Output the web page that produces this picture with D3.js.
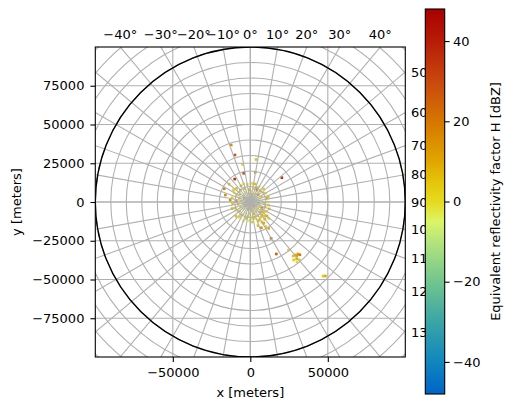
<!DOCTYPE html>
<html>
<head>
<meta charset="utf-8">
<script src="https://cdn.jsdelivr.net/npm/d3@7"></script>
<style>
  body { margin: 0; background: #fff; }
  text { font-family: "DejaVu Sans", sans-serif; }
</style>
</head>
<body>
<div id="chart"></div>
<script>

// radar gates: azimuth (deg from north), range (km), reflectivity (dBZ)
var gateAz = [
  0, 4, 10, 15, 20, 24, 29, 33, 38, 42, 47, 52, 57, 62, 66, 72, 77, 82, 88, 93,
  98, 103, 108, 113, 118, 123, 128, 132, 137, 142, 147, 152, 157, 162, 168, 173, 178, 184, 190, 196,
  202, 208, 214, 220, 224, 230, 236, 242, 248, 254, 260, 266, 272, 278, 286, 290, 296, 302, 308, 314,
  320, 326, 332, 338, 345, 350, 355,
  135, 140, 145, 150, 158, 162, 165, 130, 127, 170, 175, 185, 195, 200, 215, 225, 240, 250, 265, 275,
  283, 300, 315, 330, 340, 350, 5, 15, 30, 45, 60, 75, 90, 100, 110, 120,
  60, 120, 200, 300,
  341.5, 341.9, 7.7, 348.4, 346.9, 9.5, 325.7, 52.4, 297.1, 285.6, 305.5, 310,
  156.8, 145.2, 150.2, 141.4, 153.4, 139.2, 143.2, 134.6, 135.5, 142, 139.8, 140.8, 136.8, 141.6, 139.6, 137.5,
  168, 155, 147.9, 147.6, 138.2, 131.7
]
var gateRange = [
  3, 7, 5, 9, 4, 10, 8.8, 6, 3.5, 9.5, 7, 5, 10.5, 3, 8, 6, 11, 4, 7.5, 9,
  5.5, 3, 10, 7, 8.5, 4.5, 11, 6.5, 9, 3.5, 7, 10, 5, 8, 6, 11, 4, 7.5, 9.5, 5,
  8, 3, 10, 1.7, 6, 9, 4, 7, 10.5, 5, 8, 3.5, 9, 6, 2.2, 7.5, 10, 4.5, 8.5, 6,
  10, 3, 7, 9.5, 1.8, 5.5, 8,
  13, 14.5, 12, 15, 13.5, 16, 11, 14, 9, 9, 13, 12, 11, 13, 12, 13, 11, 12.5, 11.5, 13,
  12, 12, 12.5, 12, 12.5, 11.5, 12, 12, 11.5, 12, 11.5, 12, 11.5, 12, 13, 12,
  1.5, 2, 1.5, 1.2,
  38.8, 31.9, 27.7, 24.8, 19.0, 19.5, 17.9, 25.7, 18.9, 16.7, 13.3, 17.9,
  18.1, 20.7, 27.0, 39.6, 37.5, 45.9, 46.7, 68.0, 67.0, 48.9, 44.8, 47.2, 46.7, 44.5, 48.9, 45.5,
  10.1, 12.8, 16.2, 18.8, 11.3, 15.8
]
var gateDbz = [
  5, -4, 8, 2, -6, 12, 20, 0, -8, 6, 15, -3, 4, -10, 2, -5, 10, 0, -7, 3,
  14, -4, 6, -2, 18, 1, 5, -8, 8, 12, 0, 4, -5, 9, 2, -3, 6, -9, 3, 10,
  -4, 0, 7, -25, -6, 4, 15, -2, 3, -7, 6, 1, 22, -3, 35, 5, -1, 9, 2, -8,
  14, 4, -4, 8, -25, 0, 10,
  4, 8, 2, 6, 0, 5, -2, 12, 3, -4, 2, -6, 4, -3, 1, 5, -4, 9, 6, 15,
  3, -2, 5, 10, -3, 2, -1, 6, -5, 3, -2, 5, -6, 0, 7, 4,
  -15, -12, -18, -15,
  15, 28, 5, 3, 30, 18, 35, 35, 18, 15, 2, 6,
  15, 10, 25, 2, 25, 10, 3, 10, 4, 0, 12, 8, 20, 5, 0, 14,
  4, 6, 10, 3, 8, 2
]

// axis ticks
var xTicks = [-50000, 0, 50000]
var yTicks = [-75000, -50000, -25000, 0, 25000, 50000, 75000]
var cbTicks = [-40, -20, 0, 20, 40]
var topLabelAz = [-40, -30, -20, -10, 0, 10, 20, 30, 40]
var rightLabelAz = [50, 60, 70, 80, 90, 100, 110, 120, 130]

// colormap (HomeyerRainbow-like)
var cmapStops = [-48, -40, -30, -20, -10, -5, 0, 5, 10, 20, 30, 40, 48]
var cmapColors = ["#0064c8", "#1086be", "#3aa5a6", "#72c58e", "#b4e47c", "#dcf566", "#e6da1e",
                  "#e4c40a", "#e0a600", "#d67600", "#c8480e", "#b81c06", "#a80000"]

var width = 512, height = 410

var svg = d3.select("#chart").append("svg").attr("width", width).attr("height", height)

var x = d3.scaleLinear().domain([-100000, 100000]).range([95.3, 405.3])
var y = d3.scaleLinear().domain([-100000, 100000]).range([357, 47])
var cb = d3.scaleLinear().domain([-48, 48]).range([394, 9])
var color = d3.scaleLinear().domain(cmapStops).range(cmapColors)

var fmt = d3.format("d")

svg.append("defs").append("clipPath").attr("id", "clip")
  .append("rect")
    .attr("x", x(-100000)).attr("y", y(100000))
    .attr("width", x(100000) - x(-100000))
    .attr("height", y(-100000) - y(100000))

var plot = svg.append("g").attr("clip-path", "url(#clip)")

// radar gates
var gateSize = 1700
var gates = gateAz.map(function (az, i) {
  var a = az * Math.PI / 180
  return {
    xm: gateRange[i] * 1000 * Math.sin(a),
    ym: gateRange[i] * 1000 * Math.cos(a),
    v: gateDbz[i]
  }
})

plot.append("g")
  .selectAll("rect")
  .data(gates)
  .join("rect")
    .attr("x", d => x(d.xm - gateSize / 2))
    .attr("y", d => y(d.ym + gateSize / 2))
    .attr("width", x(gateSize) - x(0))
    .attr("height", y(0) - y(gateSize))
    .attr("fill", d => color(d.v))

// cartesian grid
plot.append("g")
    .attr("stroke", "#b0b0b0")
    .attr("stroke-width", 1.1)
  .selectAll("line")
  .data(xTicks)
  .join("line")
    .attr("x1", d => x(d)).attr("x2", d => x(d))
    .attr("y1", y(-100000)).attr("y2", y(100000))

plot.append("g")
    .attr("stroke", "#b0b0b0")
    .attr("stroke-width", 1.1)
  .selectAll("line")
  .data(yTicks)
  .join("line")
    .attr("y1", d => y(d)).attr("y2", d => y(d))
    .attr("x1", x(-100000)).attr("x2", x(100000))

// polar grid: range rings and azimuth spokes
var rings = d3.range(10000, 150000, 10000)
var spokes = d3.range(0, 360, 10)

plot.append("g")
    .attr("fill", "none")
    .attr("stroke", "#b0b0b0")
    .attr("stroke-width", 1.1)
  .selectAll("circle")
  .data(rings)
  .join("circle")
    .attr("cx", x(0)).attr("cy", y(0))
    .attr("r", d => x(d) - x(0))

plot.append("g")
    .attr("stroke", "#b0b0b0")
    .attr("stroke-width", 1.1)
  .selectAll("line")
  .data(spokes)
  .join("line")
    .attr("x1", x(0)).attr("y1", y(0))
    .attr("x2", d => x(150000 * Math.sin(d * Math.PI / 180)))
    .attr("y2", d => y(150000 * Math.cos(d * Math.PI / 180)))

// 100 km range circle
plot.append("circle")
    .attr("cx", x(0)).attr("cy", y(0))
    .attr("r", x(100000) - x(0))
    .attr("fill", "none")
    .attr("stroke", "#000")
    .attr("stroke-width", 1.4)

// frame
svg.append("rect")
    .attr("x", x(-100000)).attr("y", y(100000))
    .attr("width", x(100000) - x(-100000))
    .attr("height", y(-100000) - y(100000))
    .attr("fill", "none")
    .attr("stroke", "#000")
    .attr("stroke-width", 1.1)

// axes
var xAxis = svg.append("g")
    .attr("transform", "translate(0," + y(-100000) + ")")
    .call(d3.axisBottom(x).tickValues(xTicks).tickFormat(fmt).tickSize(4.9).tickPadding(6))
var yAxis = svg.append("g")
    .attr("transform", "translate(" + x(-100000) + ",0)")
    .call(d3.axisLeft(y).tickValues(yTicks).tickFormat(fmt).tickSize(4.9).tickPadding(6))

;[xAxis, yAxis].forEach(function (g) {
  g.select(".domain").remove()
  g.selectAll("line").attr("stroke", "#000").attr("stroke-width", 1.1)
  g.selectAll("text").attr("font-size", 13).attr("fill", "#000").attr("font-family", "DejaVu Sans")
})

svg.append("text")
    .attr("x", x(0)).attr("y", 397)
    .attr("text-anchor", "middle")
    .attr("font-size", 13)
    .text("x [meters]")

svg.append("text")
    .attr("transform", "translate(21," + y(0) + ") rotate(-90)")
    .attr("text-anchor", "middle")
    .attr("font-size", 13)
    .text("y [meters]")

// azimuth labels along top and right edges
svg.append("g")
    .attr("font-size", 13)
  .selectAll("text")
  .data(topLabelAz)
  .join("text")
    .attr("x", d => x(100000 * Math.tan(d * Math.PI / 180)))
    .attr("y", 39)
    .attr("text-anchor", "middle")
    .text(d => fmt(d) + "°")

svg.append("g")
    .attr("font-size", 13)
  .selectAll("text")
  .data(rightLabelAz)
  .join("text")
    .attr("x", 411)
    .attr("y", d => y(100000 / Math.tan(d * Math.PI / 180)))
    .attr("dy", "0.36em")
    .text(d => fmt(d) + "°")

// colorbar
var grad = svg.select("defs").append("linearGradient")
    .attr("id", "cmap")
    .attr("x1", 0).attr("x2", 0).attr("y1", 1).attr("y2", 0)
grad.selectAll("stop")
  .data(cmapStops)
  .join("stop")
    .attr("offset", d => (d - cmapStops[0]) / (cmapStops[cmapStops.length - 1] - cmapStops[0]))
    .attr("stop-color", d => color(d))

svg.append("rect")
    .attr("x", 425.3).attr("y", cb(48))
    .attr("width", 19.4).attr("height", cb(-48) - cb(48))
    .attr("fill", "url(#cmap)")
    .attr("stroke", "#000")
    .attr("stroke-width", 1.1)

var cbAxis = svg.append("g")
    .attr("transform", "translate(444.7,0)")
    .call(d3.axisRight(cb).tickValues(cbTicks).tickFormat(fmt).tickSize(4.9).tickPadding(3.5))
cbAxis.select(".domain").remove()
cbAxis.selectAll("line").attr("stroke", "#000").attr("stroke-width", 1.1)
cbAxis.selectAll("text").attr("font-size", 13).attr("fill", "#000").attr("font-family", "DejaVu Sans")

svg.append("text")
    .attr("transform", "translate(500," + cb(0) + ") rotate(-90)")
    .attr("text-anchor", "middle")
    .attr("font-size", 13)
    .text("Equivalent reflectivity factor H [dBZ]")

</script>
</body>
</html>
